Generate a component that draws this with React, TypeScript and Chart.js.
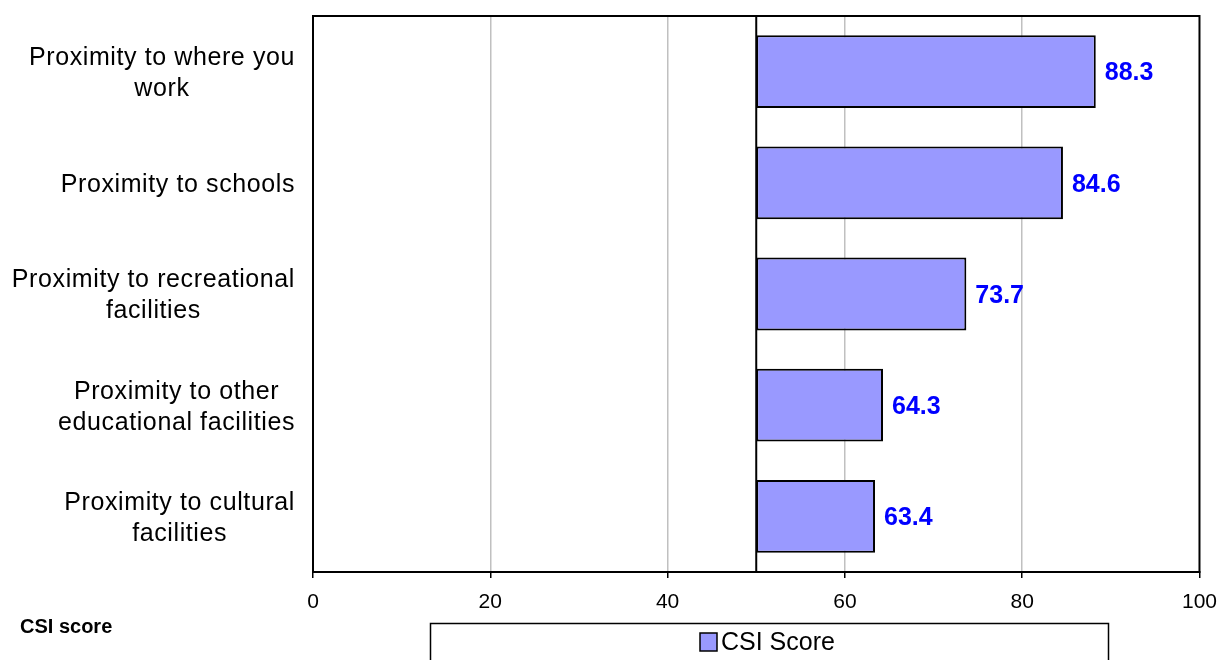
import React, { useEffect, useRef } from "react";
import { Chart, registerables } from "chart.js";

Chart.register(...registerables);

const categories: string[][] = [
  ["Proximity to where you", "work"],
  ["Proximity to schools"],
  ["Proximity to recreational", "facilities"],
  ["Proximity to other", "educational facilities"],
  ["Proximity to cultural", "facilities"],
];
const csiScores: number[] = [88.3, 84.6, 73.7, 64.3, 63.4];
const baseValue = 50;
const xMin = 0;
const xMax = 100;
const xStep = 20;
const seriesName = "CSI Score";
const footnote = "CSI score";

const FONT = "'Liberation Sans', Arial, sans-serif";

const overlayPlugin = {
  id: "overlay",
  beforeDatasetsDraw(chart: any) {
    const { ctx, chartArea } = chart;
    const x50 = chart.scales.x.getPixelForValue(baseValue);
    ctx.save();
    ctx.strokeStyle = "#000";
    ctx.lineWidth = 2;
    ctx.beginPath();
    ctx.moveTo(x50, chartArea.top);
    ctx.lineTo(x50, chartArea.bottom);
    ctx.stroke();
    ctx.restore();
  },
  afterDraw(chart: any) {
    const { ctx, chartArea } = chart;
    const xs = chart.scales.x;
    const ys = chart.scales.y;
    ctx.save();
    // plot border
    ctx.strokeStyle = "#000";
    ctx.lineWidth = 2;
    ctx.strokeRect(chartArea.left, chartArea.top, chartArea.right - chartArea.left, chartArea.bottom - chartArea.top);

    // value labels
    ctx.font = `bold 25px ${FONT}`;
    ctx.fillStyle = "#0000ff";
    ctx.textBaseline = "middle";
    ctx.textAlign = "left";
    const ds = chart.data.datasets[0];
    (ds.data as number[][]).forEach((d, i) => {
      const x = xs.getPixelForValue(d[1]);
      const y = ys.getPixelForValue(i);
      ctx.fillText(d[1].toFixed(1), x + 9, y + 2);
    });

    // category labels: block right aligned, lines centered
    ctx.font = `25px ${FONT}`;
    (ctx as any).letterSpacing = "0.6px";
    ctx.fillStyle = "#000";
    ctx.textAlign = "center";
    const right = 295;
    const lh = 31;
    (chart.data.labels as string[][]).forEach((lines, i) => {
      const yc = ys.getPixelForValue(i) + 2;
      const widths = lines.map((l) => ctx.measureText(l).width);
      const w = Math.max(...widths);
      const cx = right - w / 2;
      const y0 = yc - ((lines.length - 1) * lh) / 2;
      lines.forEach((l, j) => ctx.fillText(l, cx, y0 + j * lh));
    });
    (ctx as any).letterSpacing = "0px";

    // footnote
    ctx.font = `bold 20px ${FONT}`;
    ctx.textAlign = "left";
    ctx.fillText(footnote, 20, 627);

    // legend
    ctx.lineWidth = 1.5;
    ctx.strokeRect(430.5, 623.5, 678, 60);
    ctx.fillStyle = "#9999ff";
    ctx.fillRect(700, 633, 17, 18);
    ctx.strokeRect(700, 633, 17, 18);
    ctx.fillStyle = "#000";
    ctx.font = `25px ${FONT}`;
    ctx.fillText(ds.label, 721, 643);
    ctx.restore();
  },
};

export default function App() {
  const ref = useRef<HTMLCanvasElement>(null);
  useEffect(() => {
    if (!ref.current) return;
    const chart = new Chart(ref.current, {
      type: "bar",
      data: {
        labels: categories as any,
        datasets: [
          {
            label: seriesName,
            data: csiScores.map((v) => [baseValue, v]) as any,
            backgroundColor: "#9999ff",
            borderColor: "#000",
            borderWidth: 2,
            borderSkipped: false,
            categoryPercentage: 1,
            barPercentage: 0.655,
          },
        ],
      },
      options: {
        indexAxis: "y",
        animation: false,
        responsive: false,
        maintainAspectRatio: false,
        layout: { padding: { left: 0, top: 16, right: 29, bottom: 0 } },
        plugins: { legend: { display: false }, tooltip: { enabled: false } },
        scales: {
          x: {
            type: "linear",
            min: xMin,
            max: xMax,
            ticks: { stepSize: xStep, color: "#000", font: { family: FONT, size: 21 }, padding: 12 },
            grid: {
              color: (c: any) => (c.tick && (c.tick.value === xMin || c.tick.value === xMax) ? "rgba(0,0,0,0)" : "#c0c0c0"),
              lineWidth: 1.5,
              tickColor: "#000",
              tickLength: 6,
              tickWidth: 1.5,
            },
            border: { display: true, color: "#000", width: 2 },
            afterFit: (s: any) => {
              s.height = 88;
            },
          },
          y: {
            type: "category",
            ticks: { display: false },
            grid: { display: false },
            border: { display: true, color: "#000", width: 2 },
            afterFit: (s: any) => {
              s.width = 313;
            },
          },
        },
      },
      plugins: [overlayPlugin],
    });
    return () => chart.destroy();
  }, []);
  return (
    <div style={{ position: "absolute", left: 0, top: 0, width: 1229, height: 660, background: "#fff" }}>
      <canvas ref={ref} width={1229} height={660} style={{ display: "block" }} />
    </div>
  );
}
